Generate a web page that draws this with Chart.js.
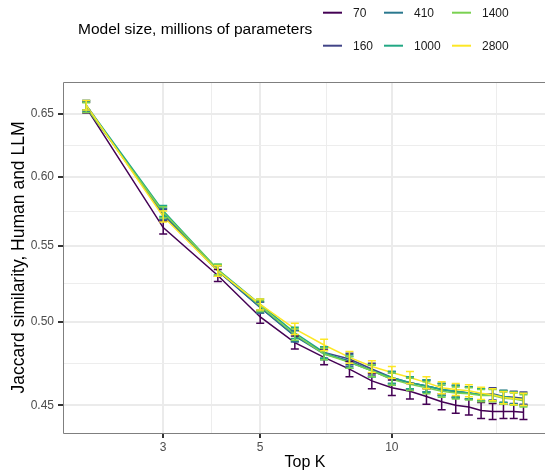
<!DOCTYPE html>
<html>
<head>
<meta charset="utf-8">
<script src="https://cdn.jsdelivr.net/npm/chart.js@4.4.1/dist/chart.umd.min.js"></script>
<style>
  html, body { margin: 0; padding: 0; background: #fff; }
  #wrap { width: 545px; height: 474px; }
</style>
</head>
<body>
<div id="wrap"><canvas id="c" width="545" height="474"></canvas></div>
<script>
// ---- data ----
const topK = [2, 3, 4, 5, 6, 7, 8, 9, 10, 11, 12, 13, 14, 15, 16, 17, 18, 19, 20];
const modelSizes = ['70', '160', '410', '1000', '1400', '2800'];

const sim70   = [0.655, 0.563, 0.530, 0.503, 0.487, 0.478, 0.471, 0.464, 0.460, 0.458, 0.455, 0.452, 0.450, 0.449, 0.447, 0.4465, 0.4465, 0.4465, 0.446];
const sim160  = [0.657, 0.572, 0.533, 0.509, 0.491, 0.481, 0.477, 0.471, 0.466, 0.463, 0.461, 0.459, 0.458, 0.457, 0.456, 0.4565, 0.455, 0.4545, 0.454];
const sim410  = [0.656, 0.573, 0.533, 0.509, 0.491, 0.480, 0.476, 0.470, 0.465, 0.463, 0.461, 0.459, 0.4575, 0.457, 0.456, 0.456, 0.455, 0.454, 0.4535];
const sim1000 = [0.657, 0.575, 0.534, 0.511, 0.493, 0.481, 0.475, 0.470, 0.466, 0.463, 0.461, 0.459, 0.458, 0.457, 0.456, 0.456, 0.455, 0.454, 0.453];
const sim1400 = [0.655, 0.574, 0.534, 0.510, 0.492, 0.480, 0.475, 0.470, 0.465, 0.462, 0.460, 0.458, 0.457, 0.4565, 0.4555, 0.4555, 0.454, 0.4535, 0.4525];
const sim2800 = [0.657, 0.571, 0.533, 0.511, 0.4955, 0.4855, 0.478, 0.4725, 0.469, 0.466, 0.463, 0.460, 0.459, 0.4583, 0.4568, 0.456, 0.4544, 0.4538, 0.4533];

// half-width of the error bars
const err70   = [0.0045, 0.0045, 0.004, 0.004, 0.004, 0.0045, 0.0045, 0.0045, 0.0045, 0.0045, 0.0045, 0.0045, 0.0045, 0.0045, 0.0045, 0.0045, 0.004, 0.004, 0.004];
const err160  = [0.004, 0.004, 0.0035, 0.0035, 0.0035, 0.0035, 0.0035, 0.0035, 0.0035, 0.0035, 0.0035, 0.0035, 0.0035, 0.0035, 0.0035, 0.0035, 0.0035, 0.0035, 0.0035];
const err410  = [0.004, 0.004, 0.0035, 0.0035, 0.0035, 0.0035, 0.0035, 0.0035, 0.0035, 0.0035, 0.0035, 0.0035, 0.0035, 0.0035, 0.0035, 0.0035, 0.0035, 0.0035, 0.0035];
const err1000 = [0.004, 0.004, 0.0035, 0.0035, 0.0035, 0.0035, 0.0035, 0.0035, 0.0035, 0.0035, 0.0035, 0.0035, 0.0035, 0.0035, 0.0035, 0.0035, 0.0035, 0.0035, 0.0035];
const err1400 = [0.004, 0.004, 0.0035, 0.0035, 0.0035, 0.0035, 0.0035, 0.0035, 0.0035, 0.0035, 0.0035, 0.0035, 0.0035, 0.0035, 0.0035, 0.0035, 0.0035, 0.0035, 0.0035];
const err2800 = [0.004, 0.004, 0.0035, 0.0035, 0.0035, 0.0035, 0.0035, 0.0035, 0.0035, 0.0035, 0.0035, 0.0035, 0.0035, 0.0035, 0.0035, 0.0035, 0.0035, 0.0035, 0.0035];

const xMajor = [3, 5, 10];
const xMinor = [3.873, 7.071, 17.32];
const yMajor = [0.45, 0.50, 0.55, 0.60, 0.65];
const yMinor = [0.4743, 0.5244, 0.5745, 0.6245];

const legendTitle = 'Model size, millions of parameters';
const xTitle = 'Top K';
const yTitle = 'Jaccard similarity, Human and LLM';

// ---- styling ----
const FONT = "'Liberation Sans', Arial, Helvetica, sans-serif";
const viridis = ['#440154', '#414487', '#2A788E', '#22A884', '#7AD151', '#FDE725'];
const series = [sim70, sim160, sim410, sim1000, sim1400, sim2800];
const errs = [err70, err160, err410, err1000, err1400, err2800];

const isMajor = (list, v) => list.some(m => Math.abs(m - v) < 1e-6);

const datasets = series.map((s, i) => ({
  label: modelSizes[i],
  data: s,
  borderColor: viridis[i],
  backgroundColor: viridis[i],
  borderWidth: 1.5,
  pointRadius: 0,
  tension: 0,
  fill: false,
  order: series.length - i
}));

// error bars, drawn group by group (70 first, 2800 on top)
const errorBars = {
  id: 'errorBars',
  afterDatasetsDraw(chart) {
    const ctx = chart.ctx, ys = chart.scales.y, a = chart.chartArea;
    ctx.save();
    ctx.beginPath(); ctx.rect(a.left, a.top, a.right - a.left, a.bottom - a.top); ctx.clip();
    ctx.lineWidth = 1.5;
    series.forEach((s, i) => {
      const meta = chart.getDatasetMeta(i);
      ctx.strokeStyle = viridis[i];
      meta.data.forEach((pt, j) => {
        const y1 = ys.getPixelForValue(s[j] + errs[i][j]);
        const y2 = ys.getPixelForValue(s[j] - errs[i][j]);
        const x = pt.x, w = 4;
        ctx.beginPath();
        ctx.moveTo(x, y1); ctx.lineTo(x, y2);
        ctx.moveTo(x - w, y1); ctx.lineTo(x + w, y1);
        ctx.moveTo(x - w, y2); ctx.lineTo(x + w, y2);
        ctx.stroke();
      });
    });
    ctx.restore();
  }
};

// panel border, axis titles and the ggplot-style legend
const decorations = {
  id: 'decorations',
  afterDraw(chart) {
    const ctx = chart.ctx, a = chart.chartArea;
    ctx.save();
    ctx.strokeStyle = '#7f7f7f';
    ctx.lineWidth = 1;
    ctx.beginPath();
    ctx.moveTo(a.right + 2, a.top + 0.5); ctx.lineTo(a.left + 0.5, a.top + 0.5);
    ctx.lineTo(a.left + 0.5, a.bottom + 0.5); ctx.lineTo(a.right + 2, a.bottom + 0.5);
    ctx.stroke();

    ctx.fillStyle = '#000';
    ctx.font = '16px ' + FONT;
    ctx.textAlign = 'center';
    ctx.textBaseline = 'middle';
    ctx.fillText(xTitle, 305, 463);
    ctx.save();
    ctx.translate(19, (a.top + a.bottom) / 2);
    ctx.rotate(-Math.PI / 2);
    ctx.font = '17.5px ' + FONT;
    ctx.fillText(yTitle, 0, 0);
    ctx.restore();

    ctx.textAlign = 'left';
    ctx.font = '15.5px ' + FONT;
    ctx.fillText(legendTitle, 78, 30);

    const colX = [323, 384, 452], rowY = [12.7, 45.7];
    ctx.font = '12px ' + FONT;
    modelSizes.forEach((lab, i) => {
      const c = Math.floor(i / 2), r = i % 2;
      ctx.strokeStyle = viridis[i];
      ctx.lineWidth = 2;
      ctx.beginPath();
      ctx.moveTo(colX[c], rowY[r]); ctx.lineTo(colX[c] + 19, rowY[r]);
      ctx.stroke();
      ctx.fillStyle = '#1a1a1a';
      ctx.fillText(lab, colX[c] + 30, rowY[r] + 0.5);
    });
    ctx.restore();
  }
};

new Chart(document.getElementById('c').getContext('2d'), {
  type: 'line',
  data: { labels: topK, datasets },
  plugins: [errorBars, decorations],
  options: {
    responsive: false,
    animation: false,
    events: [],
    layout: { padding: { top: 82, right: 0, left: 0, bottom: 0 } },
    plugins: { legend: { display: false }, tooltip: { enabled: false }, title: { display: false } },
    scales: {
      x: {
        type: 'logarithmic',
        min: 1.77, max: 22.4,
        afterBuildTicks: (s) => { s.ticks = xMajor.concat(xMinor).sort((p, q) => p - q).map(v => ({ value: v })); },
        afterFit: (s) => { s.height = 41; },
        border: { display: false },
        grid: {
          color: (c) => isMajor(xMajor, c.tick && c.tick.value) ? '#ebebeb' : '#ededed',
          lineWidth: (c) => isMajor(xMajor, c.tick && c.tick.value) ? 2 : 1,
          tickColor: (c) => isMajor(xMajor, c.tick && c.tick.value) ? '#333333' : 'rgba(0,0,0,0)',
          tickLength: 5
        },
        ticks: {
          autoSkip: false, maxRotation: 0, padding: 2,
          color: '#4d4d4d', font: { family: FONT, size: 12 },
          callback: (v) => isMajor(xMajor, v) ? String(v) : ''
        }
      },
      y: {
        type: 'logarithmic',
        min: 0.4345, max: 0.6765,
        afterBuildTicks: (s) => { s.ticks = yMajor.concat(yMinor).sort((p, q) => p - q).map(v => ({ value: v })); },
        afterFit: (s) => { s.width = 63; },
        border: { display: false },
        grid: {
          color: (c) => isMajor(yMajor, c.tick && c.tick.value) ? '#ebebeb' : '#ededed',
          lineWidth: (c) => isMajor(yMajor, c.tick && c.tick.value) ? 2 : 1,
          tickColor: (c) => isMajor(yMajor, c.tick && c.tick.value) ? '#333333' : 'rgba(0,0,0,0)',
          tickLength: 5
        },
        ticks: {
          autoSkip: false, padding: 4,
          color: '#4d4d4d', font: { family: FONT, size: 12 },
          callback: (v) => isMajor(yMajor, v) ? v.toFixed(2) : ''
        }
      }
    }
  }
});
</script>
</body>
</html>
